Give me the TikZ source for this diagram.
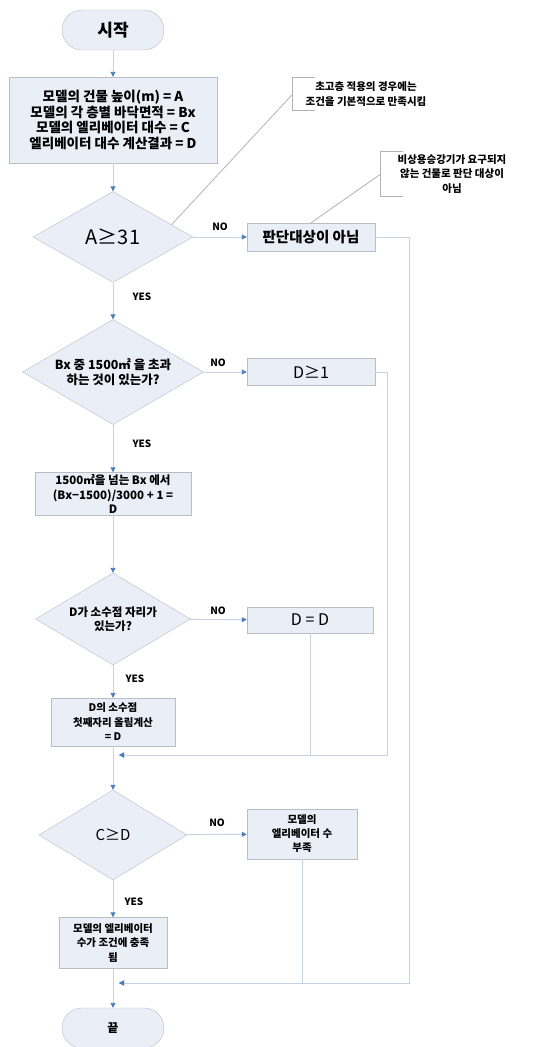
\documentclass[tikz,border=0pt]{standalone}
\usepackage{fontspec}
\setmainfont{Noto Sans CJK KR}
\usetikzlibrary{shapes.geometric,arrows.meta,calc}
\definecolor{boxfill}{RGB}{233,238,247}
\definecolor{boxline}{RGB}{186,189,197}
\definecolor{flowline}{RGB}{196,210,228}
\definecolor{tipblue}{RGB}{74,126,190}
\definecolor{noteline}{RGB}{178,178,178}

\begin{document}
\begin{tikzpicture}[x=1pt, y=-1pt,
  term/.style={draw=boxline, fill=boxfill, rounded corners=20pt, minimum width=102pt,
    minimum height=40pt, inner sep=0pt},
  proc/.style={draw=boxline, fill=boxfill, inner sep=0pt, align=center},
  decide/.style={draw=boxline, fill=boxfill, diamond, inner sep=0pt, align=center},
  flow/.style={draw=flowline, line width=0.9pt, -{Triangle[length=5pt,width=5pt,color=tipblue]}},
  note/.style={inner sep=0pt, align=center, font=\bfseries\fontsize{10.5}{14.5}\selectfont},
  bracket/.style={draw=noteline, line width=0.8pt},
  yesno/.style={font=\bfseries\fontsize{10}{11}\selectfont}]
\useasboundingbox (0,0) rectangle (539,1047);
% main column
\node[term, font=\bfseries\fontsize{17}{20}\selectfont] (start) at (113,30) {시작};
\node[proc, minimum width=208pt, minimum height=86pt, font=\bfseries\fontsize{13.5}{15.5}\selectfont]
  (input) at (113,120) {모델의 건물 높이(m) = A\\모델의 각 층별 바닥면적 = Bx\\모델의 엘리베이터 대수 = C\\엘리베이터 대수 계산결과 = D};
\node[decide, minimum width=160pt, minimum height=91pt, aspect=1.76, font=\fontsize{20}{22}\selectfont]
  (height) at (113,237) {A≥31};
\node[decide, minimum width=181pt, minimum height=105pt, aspect=1.72, font=\bfseries\fontsize{12.5}{15}\selectfont]
  (area) at (113,372) {Bx 중 1500㎡ 을 초과\\하는 것이 있는가?};
\node[proc, minimum width=156pt, minimum height=43pt, font=\bfseries\fontsize{11.5}{14.5}\selectfont]
  (calc) at (113,494) {1500㎡을 넘는 Bx 에서\\(Bx−1500)/3000 + 1 =\\D};
\node[decide, minimum width=155pt, minimum height=92pt, aspect=1.68, font=\bfseries\fontsize{11.5}{14.5}\selectfont]
  (frac) at (113,619) {D가 소수점 자리가\\있는가?};
\node[proc, minimum width=124pt, minimum height=48pt, font=\bfseries\fontsize{10.5}{14.5}\selectfont]
  (roundup) at (113,722) {D의 소수점\\첫째자리 올림계산\\= D};
\node[decide, minimum width=148pt, minimum height=90pt, aspect=1.64, font=\fontsize{15}{17}\selectfont]
  (count) at (113,835) {C≥D};
\node[proc, minimum width=108pt, minimum height=51pt, font=\bfseries\fontsize{10.5}{14.5}\selectfont]
  (ok) at (113,943) {모델의 엘리베이터\\수가 조건에 충족\\됨};
\node[term, font=\bfseries\fontsize{12}{14}\selectfont] (stop) at (113,1028) {끝};
% side column
\node[proc, minimum width=128pt, minimum height=28pt, font=\bfseries\fontsize{14.5}{16}\selectfont]
  (none) at (311,237) {판단대상이 아님};
\node[proc, minimum width=128pt, minimum height=27pt, font=\fontsize{16}{18}\selectfont]
  (one) at (311,372) {D≥1};
\node[proc, minimum width=126pt, minimum height=26pt, font=\fontsize{16}{18}\selectfont]
  (same) at (310,620) {D = D};
\node[proc, minimum width=110pt, minimum height=50pt, font=\bfseries\fontsize{10.5}{14}\selectfont]
  (short) at (302,834) {모델의\\엘리베이터 수\\부족};
% notes
\node[note, minimum width=146pt, minimum height=33pt] (note1) at (366,94)
  {초고층 적용의 경우에는\\조건을 기본적으로 만족시킴};
\node[note, minimum width=142pt, minimum height=45pt] (note2) at (452,174)
  {비상용승강기가 요구되지\\않는 건물로 판단 대상이\\아님};
\draw[bracket] ([xshift=22pt]note1.north west) -- (note1.north west) -- (note1.south west) -- ([xshift=22pt]note1.south west);
\draw[bracket] ([xshift=22pt]note2.north west) -- (note2.north west) -- (note2.south west) -- ([xshift=22pt]note2.south west);
\draw[bracket] ($(height.east)!0.27!(height.north)$) -- (note1.west);
\draw[bracket] (none.north) -- (note2.west);
% joins
\coordinate (join1) at (119,755);
\coordinate (join2) at (119,983);
% flow
\draw[flow] (start) -- (input);
\draw[flow] (input) -- (height);
\draw[flow] (height) -- (area);
\draw[flow] (area) -- (calc);
\draw[flow] (calc) -- (frac);
\draw[flow] (frac) -- (roundup);
\draw[flow] (roundup) -- (count);
\draw[flow] (count) -- (ok);
\draw[flow] (ok) -- (stop);
\draw[flow] (height) -- (none);
\draw[flow] (area) -- (one);
\draw[flow] (frac) -- (same);
\draw[flow] (count) -- (short);
\draw[flow] (none.east) -- ++(34,0) |- (join2);
\draw[flow] (one.east) -- ++(12,0) |- (join1);
\draw[flow] (same.south) |- (join1);
\draw[flow] (short.south) |- (join2);
% labels
\node[yesno] (no1) at (220,227) {NO};
\node[yesno] (no2) at (218,363) {NO};
\node[yesno] (no3) at (218,611) {NO};
\node[yesno] (no4) at (217,823) {NO};
\node[yesno] (yes1) at (142,297) {YES};
\node[yesno] (yes2) at (142,444) {YES};
\node[yesno] (yes3) at (135,679) {YES};
\node[yesno] (yes4) at (134,902) {YES};
\end{tikzpicture}
\end{document}
